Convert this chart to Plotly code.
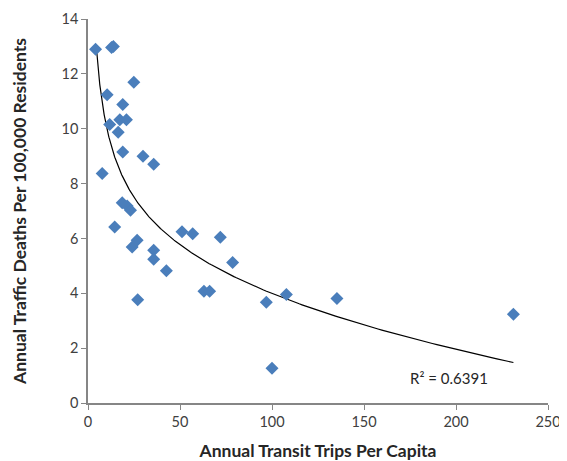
import numpy as np
import plotly.graph_objects as go

# Annual transit trips per capita
transit_trips = [4.1, 12.8, 13.8, 24.9, 10.4, 18.9, 17.3, 20.9, 11.8, 16.4,
                 18.9, 29.9, 35.7, 7.7, 18.6, 21.3, 23.1, 14.5, 24.0, 26.7,
                 35.7, 35.7, 42.6, 27.0, 51.1, 56.9, 71.9, 78.6, 63.0, 66.1,
                 96.9, 107.8, 135.3, 231.2, 100.0]
# Annual traffic deaths per 100,000 residents
traffic_deaths = [12.9, 12.96, 13.0, 11.69, 11.24, 10.88, 10.33, 10.33, 10.15, 9.87,
                  9.15, 9.0, 8.7, 8.37, 7.3, 7.18, 7.03, 6.42, 5.69, 5.93,
                  5.57, 5.24, 4.82, 3.76, 6.24, 6.17, 6.04, 5.12, 4.07, 4.07,
                  3.67, 3.96, 3.81, 3.24, 1.27]
# Trend line
trend_x = [4.45, 7.7, 11.7, 22.1, 30.8, 46.6, 64.7, 82.8, 129.9, 169.7, 231.2]
trend_y = [13.3, 10.27, 9.91, 7.85, 7.24, 6.03, 5.0, 4.33, 3.18, 2.49, 1.57]
x_ticks = [0, 50, 100, 150, 200, 250]
y_ticks = [0, 2, 4, 6, 8, 10, 12, 14]
r2_label = "R² = 0.6391"

# smooth curve through the read trend values (cubic in ln x)
coef = np.polyfit(np.log(trend_x), trend_y, 3)
xt = np.geomspace(min(trend_x), max(trend_x), 300)
yt = np.polyval(coef, np.log(xt))

FONT = "Lato, Open Sans, sans-serif"

fig = go.Figure()
fig.add_trace(go.Scatter(x=xt, y=yt, mode="lines",
                         line=dict(color="#000000", width=1.2), hoverinfo="skip"))
fig.add_trace(go.Scatter(x=transit_trips, y=traffic_deaths, mode="markers",
                         marker=dict(symbol="diamond", size=10, color="#4a7ebb",
                                     line=dict(width=0))))

axis_font = dict(family=FONT, size=14.5, color="#404040")
title_font = dict(family=FONT, size=17.5, color="#262626")
# page body has an 8px margin, so the figure is sized to fit inside it
fig.update_layout(
    width=559, height=453,
    margin=dict(l=80, r=19, t=11, b=58),
    plot_bgcolor="white", paper_bgcolor="white",
    showlegend=False,
    xaxis=dict(range=[0, 250], tickvals=x_ticks, showgrid=False, zeroline=False,
               automargin=False,
               showline=True, linecolor="#868686", linewidth=1.5,
               ticks="outside", ticklen=5, tickcolor="#868686",
               tickfont=axis_font,
               title=dict(text="<b>Annual Transit Trips Per Capita</b>",
                          font=title_font, standoff=16)),
    yaxis=dict(range=[0, 14], tickvals=y_ticks, showgrid=False, zeroline=False,
               automargin=False,
               showline=True, linecolor="#868686", linewidth=1.5,
               ticks="outside", ticklen=5, tickcolor="#868686",
               tickfont=axis_font,
               title=dict(text="<b>Annual Traffic Deaths Per 100,000 Residents</b>",
                          font=title_font, standoff=30)),
    annotations=[dict(x=196, y=0.9, xref="x", yref="y", text=r2_label, showarrow=False,
                      font=dict(family=FONT, size=15, color="#262626"))],
)
fig.write_html("out.html")
